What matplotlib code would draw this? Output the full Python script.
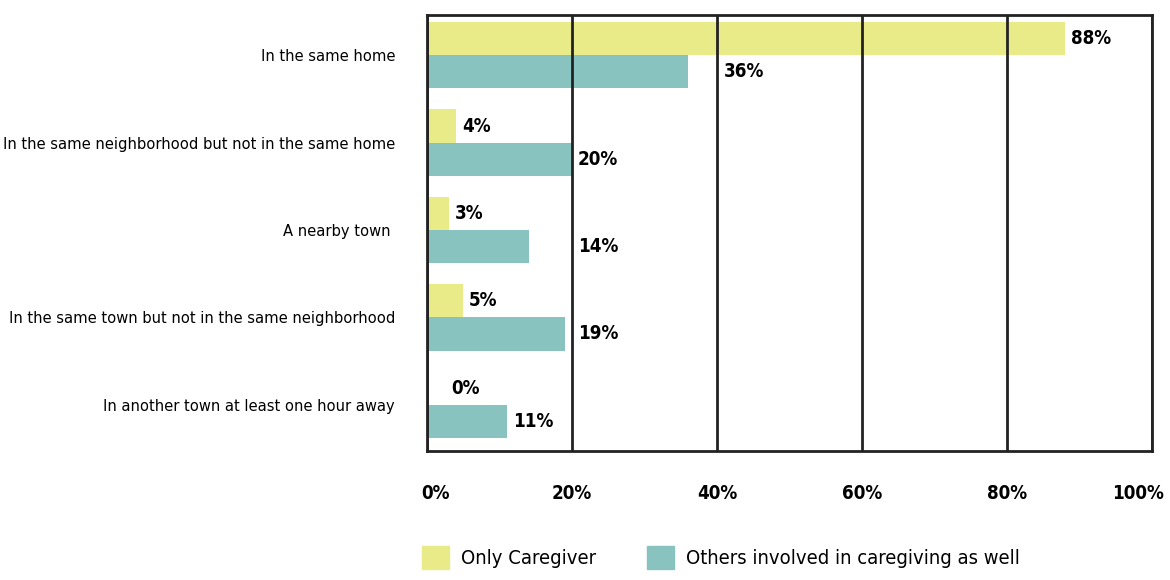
import matplotlib
matplotlib.use('Agg')
import matplotlib.pyplot as plt
import matplotlib.transforms as mtransforms
from matplotlib.patches import Patch
import numpy as np

plt.rcParams['font.family'] = ['DejaVu Sans']
plt.rcParams['font.stretch'] = 'condensed'

categories = ['In the same home',
              'In the same neighborhood but not in the same home',
              'A nearby town ',
              'In the same town but not in the same neighborhood',
              'In another town at least one hour away']
only_caregiver = [88, 4, 3, 5, 0]
others_involved = [36, 20, 14, 19, 11]
series_names = ['Only Caregiver', 'Others involved in caregiving as well']
xticks = [0, 20, 40, 60, 80, 100]

c_yellow = '#e9eb88'
c_teal = '#88c3c0'
bar_h = 0.38

fig = plt.figure(figsize=(11.7, 5.8), dpi=100)
ax = fig.add_axes([0.365, 0.2224, 0.6196, 0.7516])

y = np.arange(len(categories))
ax.barh(y - bar_h / 2, only_caregiver, height=bar_h, color=c_yellow)
ax.barh(y + bar_h / 2, others_involved, height=bar_h, color=c_teal)

ax.set_xlim(0, 100)
ax.set_ylim(4.53, -0.46)
ax.set_yticks(y)
ax.set_yticklabels(categories, fontsize=11.8)
ax.set_xticks(xticks)
ax.set_xticklabels([f'{t}%' for t in xticks], fontsize=13.5, fontweight='bold')
ax.tick_params(axis='both', length=0)
ax.tick_params(axis='x', pad=24)
ax.tick_params(axis='y', pad=23)
for s in ax.spines.values():
    s.set_linewidth(2)
    s.set_color('#222222')
ax.grid(axis='x', color='#222222', linewidth=2)
ax.set_axisbelow(False)

# nudge the outer tick labels inward like the original
labels = ax.get_xticklabels()
labels[0].set_transform(labels[0].get_transform() +
                        mtransforms.ScaledTranslation(8 / 100, 0, fig.dpi_scale_trans))
labels[-1].set_transform(labels[-1].get_transform() +
                         mtransforms.ScaledTranslation(-14 / 100, 0, fig.dpi_scale_trans))


def label_x(v, width=5.5):
    # start just after the bar, hop past a gridline if the text would sit on it
    start = max(v, 2.6) + 0.8
    g = (np.floor(start / 20) + 1) * 20
    if start + width > g:
        start = g + 0.9
    return start


for i in range(len(categories)):
    for v, off in ((only_caregiver[i], -bar_h / 2), (others_involved[i], bar_h / 2)):
        ax.text(label_x(v), y[i] + off, f'{v}%', fontsize=13.5, fontweight='bold',
                ha='left', va='center')

handles = [Patch(color=c_yellow), Patch(color=c_teal)]
fig.legend(handles, series_names, loc='lower left', bbox_to_anchor=(0.3607, 0.019),
           ncol=2, frameon=False, fontsize=14.5, handlelength=1.35, handleheight=1.35,
           handletextpad=0.6, columnspacing=2.5, borderpad=0, borderaxespad=0)

fig.savefig('out.png', dpi=100)
